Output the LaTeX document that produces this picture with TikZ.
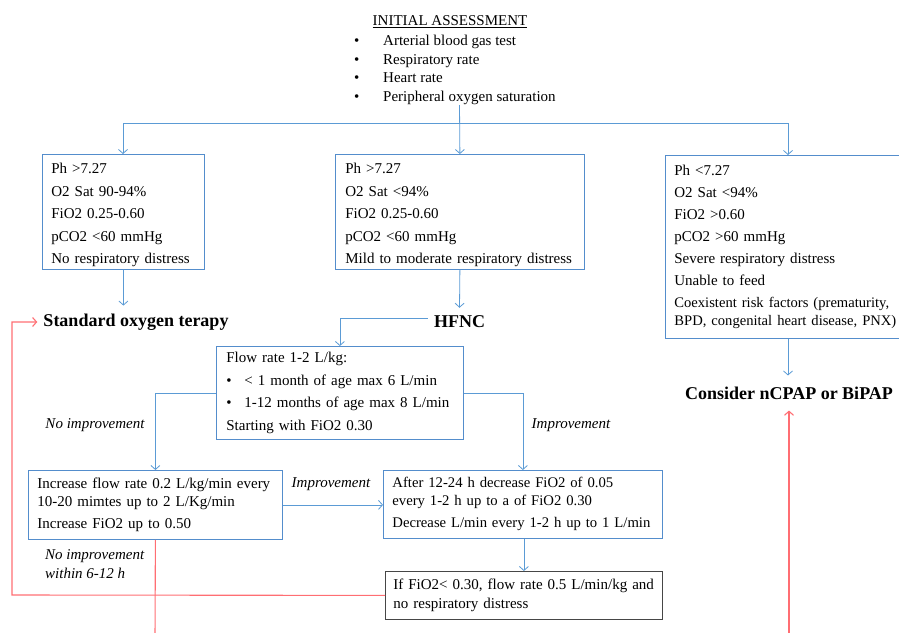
\documentclass[tikz,border=0pt]{standalone}
\usepackage{fontspec}
\setmainfont{Liberation Serif}
\usetikzlibrary{arrows.meta,calc}
\definecolor{lineblue}{RGB}{91,155,213}
\definecolor{boxblue}{RGB}{84,141,204}
\definecolor{linered}{RGB}{255,110,115}
\definecolor{boxgray}{RGB}{70,70,70}
\begin{document}
\begin{tikzpicture}[x=1pt,y=-1pt,
  arr/.style={draw=lineblue,line width=0.8pt,-{Straight Barb[length=4pt,width=9pt]}},
  redarr/.style={draw=linered,line width=1.1pt,-{Straight Barb[length=4pt,width=9pt]}},
  redline/.style={draw=linered,line width=1.1pt},
  box/.style={draw=boxblue,line width=0.8pt,anchor=north west,align=left,inner xsep=9pt,inner ysep=0pt},
  body/.style={font=\fontsize{15}{18}\selectfont},
  cond/.style={font=\fontsize{15}{22.5}\selectfont},
  bigbold/.style={font=\fontsize{18}{20}\selectfont\bfseries,inner xsep=6pt,inner ysep=8pt},
  lab/.style={font=\fontsize{15}{19}\selectfont\itshape,align=left,inner sep=0pt}
]
\useasboundingbox (0,0) rectangle (899,632);
\clip (0,0) rectangle (899,632);

% initial assessment
\node[body,inner sep=0pt] (init) at (450,22) {\underline{INITIAL ASSESSMENT}};
\node[font=\fontsize{15}{18.5}\selectfont,align=left,anchor=north west,inner sep=0pt] (list) at (354,35)
 {\makebox[29pt][l]{•}Arterial blood gas test\\
  \makebox[29pt][l]{•}Respiratory rate\\
  \makebox[29pt][l]{•}Heart rate\\
  \makebox[29pt][l]{•}Peripheral oxygen saturation};

% condition boxes
\node[box,cond,minimum width=162pt,minimum height=115pt,text width=144pt] (b1) at (42,154)
 {\rule{0pt}{17pt}Ph >7.27\\O2 Sat 90-94\%\\FiO2 0.25-0.60\\pCO2 <60 mmHg\\No respiratory distress};
\node[box,cond,minimum width=249pt,minimum height=115pt,text width=229pt,inner xsep=10pt] (b2) at (335,154)
 {\rule{0pt}{17pt}Ph >7.27\\O2 Sat <94\%\\FiO2 0.25-0.60\\pCO2 <60 mmHg\\Mild to moderate respiratory distress};
\node[box,minimum width=246pt,minimum height=183pt,text width=228pt,font=\fontsize{15}{22}\selectfont] (b3) at (665,155)
 {Ph <7.27\\O2 Sat <94\%\\FiO2 >0.60\\pCO2 >60 mmHg\\Severe respiratory distress\\Unable to feed\\{\fontsize{14.6}{18}\selectfont Coexistent risk factors (prematurity,}\\[-3.5pt]{\fontsize{14.6}{18}\selectfont BPD, congenital heart disease, PNX)}};

% outcomes
\node[bigbold] (std) at (136,322) {Standard oxygen terapy};
\node[bigbold] (hfnc) at (459.5,322) {HFNC};
\node[bigbold,inner ysep=11pt] (ncpap) at (789,393) {Consider nCPAP or BiPAP};

% HFNC protocol
\node[box,minimum width=247pt,minimum height=93pt,text width=227pt,inner xsep=10pt,font=\fontsize{15}{22.5}\selectfont] (b4) at (216,346)
 {Flow rate 1-2 L/kg:\\
  \makebox[18pt][l]{•}< 1 month of age max 6 L/min\\
  \makebox[18pt][l]{•}1-12 months of age max 8 L/min\\
  Starting with FiO2 0.30};
\node[box,body,minimum width=254pt,minimum height=69pt,text width=236pt] (b5) at (28,470)
 {Increase flow rate 0.2 L/kg/min every\\10-20 mimtes up to 2 L/Kg/min\\[4pt]Increase FiO2 up to 0.50};
\node[box,minimum width=279pt,minimum height=68pt,text width=265pt,inner xsep=7pt,font=\fontsize{14.7}{18}\selectfont] (b6) at (383,470)
 {\hspace*{2pt}After 12-24 h decrease FiO2 of 0.05\\\hspace*{2pt}every 1-2 h up to a of FiO2 0.30\\[4pt]\hspace*{2pt}Decrease L/min every 1-2 h up to 1 L/min};
\node[box,draw=boxgray,font=\fontsize{15}{19}\selectfont,minimum width=277pt,minimum height=48pt,text width=261pt,inner xsep=8pt] (b7) at (385,571)
 {If FiO2< 0.30, flow rate 0.5 L/min/kg and\\no respiratory distress};

% labels
\node[lab] (l1) at (95,425) {No improvement};
\node[lab] (l2) at (571,425) {Improvement};
\node[lab] (l3) at (331,484) {Improvement};
\node[lab,anchor=north west] (l4) at (45,549) {No improvement\\within 6-12 h};

% blue connectors
\coordinate (top) at (459.5,105);
\coordinate (hl) at (123,123);
\coordinate (hr) at (788,123);
\draw[draw=lineblue,line width=0.8pt] (hl) -- (hr);
\draw[arr] (top) -- (b2.north);
\draw[arr] (hl) -- (hl |- b1.north);
\draw[arr] (hr) -- (hr |- b3.north);
\draw[arr] (b1.south) -- (std.north -| b1.south);
\draw[arr] (b2.south) -- (hfnc.north);
\draw[arr] ($(hfnc.west)+(0,-4)$) -| (b4.north);
\draw[arr] (b4.west) -| (b5.north);
\draw[arr] (b4.east) -| (b6.north);
\draw[arr] (b5.east) -- (b5.east -| b6.west);
\draw[arr] (b6.south -| b7.north) -- (b7.north);
\draw[arr] (hr |- b3.south) -- (hr |- ncpap.north);

% red connectors
\coordinate (rl) at (12,595);
\coordinate (bot1) at (155,640);
\coordinate (bot2) at (789,640);
\draw[redarr] (b7.west) -- (rl) |- (std.west);
\draw[redline] (b5.south) -- (bot1);
\draw[redarr] (bot2) -- (ncpap.south);
\end{tikzpicture}
\end{document}
